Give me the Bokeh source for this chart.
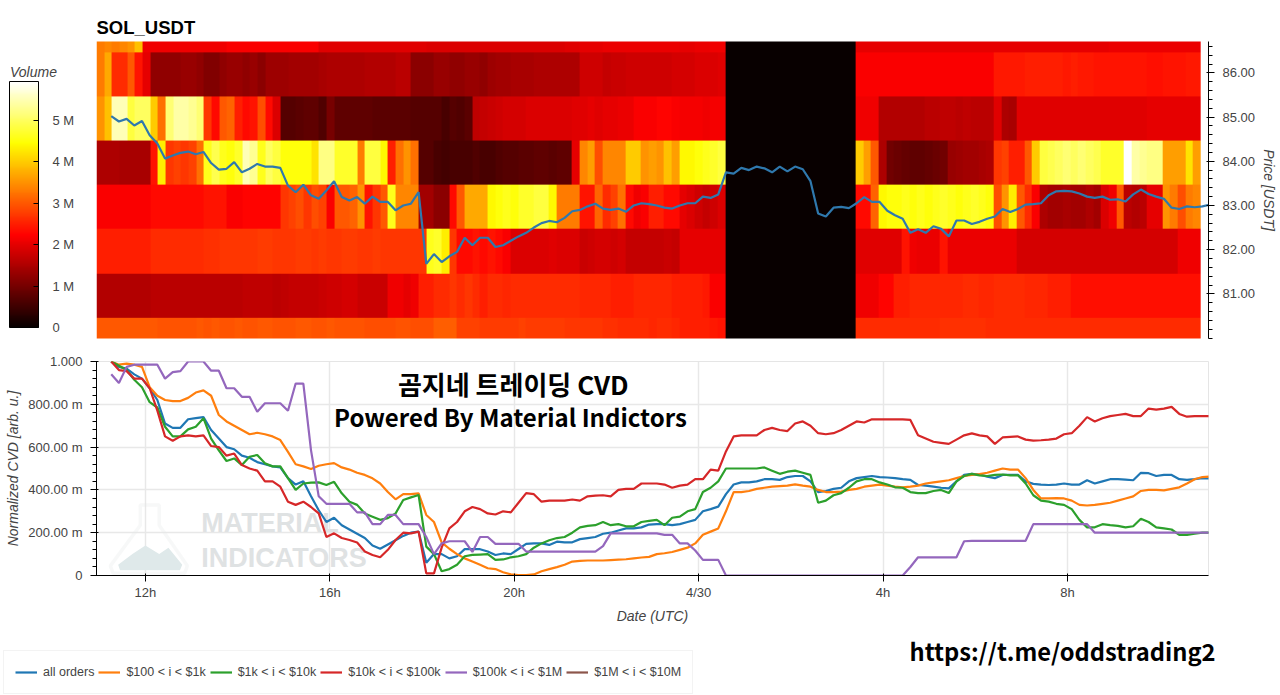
import numpy as np
from bokeh.embed import file_html
from bokeh.resources import INLINE
from bokeh.layouts import column
from bokeh.plotting import figure
from bokeh.models import (LinearColorMapper, ColorBar, FixedTicker, Label, Legend, LegendItem, Div,
                          NumeralTickFormatter, PolyAnnotation, Range1d)

# ---------- time axis (hours since 04/29 00:00) ----------
x_tick_hours = [12, 16, 20, 24, 28, 32]
x_tick_labels = ["12h", "16h", "20h", "4/30", "4h", "8h"]
line_start_hour = 11.26
line_step_hours = 1 / 6

# ---------- heatmap: volume (M) per 10-minute column, per one-dollar price bin ----------
vol_8696 = [
 3.3,3.4,3.3,3.4,3.5,3.9,2.1,2.1,2.1,2.1,2.1,2.1,
 2.1,2.1,2.1,2.1,2.1,2.2,2.2,2.2,2.2,2.2,2.2,2.2,
 2.2,2.2,2.2,2.2,2.2,1.95,1.95,1.95,1.95,1.95,1.95,1.95,
 1.95,1.95,1.95,1.95,1.95,1.95,1.95,1.9,1.9,1.9,1.9,1.9,
 1.9,1.9,1.9,1.9,1.9,1.9,1.9,1.9,1.9,1.9,1.9,1.9,
 1.9,1.95,1.95,2.0,2.0,2.0,2.05,2.05,2.05,2.05,2.05,2.05,
 2.05,2.05,2.05,2.05,2.0,2.0,2.05,2.05,2.1,2.1,0,0,
 0,0,0,0,0,0,0,0,0,0,0,0,
 0,0,0,2.0,2.0,2.0,2.0,2.0,2.0,2.0,2.0,2.0,
 2.0,2.0,2.0,2.0,2.0,2.0,2.0,2.0,2.0,2.0,2.0,2.0,
 2.0,2.0,2.0,2.0,2.0,2.0,2.0,2.0,2.0,2.0,2.0,2.0,
 2.05,2.05,2.05,2.05,2.05,2.05,2.05,2.05,2.05,2.05,2.05,2.05]
vol_8596 = [
 3.3,3.7,2.6,2.6,3.0,2.4,2.0,1.25,1.25,1.25,1.25,1.3,
 1.3,1.25,1.1,1.1,1.25,1.3,1.3,1.25,1.3,1.2,1.35,1.35,
 1.35,1.4,1.4,1.4,1.4,1.45,1.5,1.5,1.5,1.5,1.5,1.55,
 1.55,1.55,1.55,1.6,1.6,1.2,1.2,1.2,1.3,1.3,1.25,1.25,
 1.3,1.3,1.25,1.35,1.4,1.4,1.45,1.45,1.45,1.5,1.5,1.5,
 1.5,1.5,1.5,1.8,1.8,1.8,1.7,1.75,1.75,1.8,1.8,1.8,
 1.8,1.8,1.8,1.85,1.85,1.85,1.9,1.9,1.9,1.95,0,0,
 0,0,0,0,0,0,0,0,0,0,0,0,
 0,0,0,2.2,2.2,2.2,2.2,2.2,2.2,2.2,2.2,2.2,
 2.2,2.2,2.2,2.2,2.2,2.2,2.2,2.2,2.2,2.45,2.45,2.45,
 2.45,2.5,2.5,2.5,2.5,2.5,2.45,2.5,2.45,2.45,2.4,2.4,
 2.4,2.4,2.4,2.4,2.4,2.35,2.35,2.4,2.4,2.4,2.45,2.45]
vol_8496 = [
 3.5,3.9,5.5,5.5,4.8,5.0,5.0,4.0,3.2,5.1,5.4,5.4,
 5.3,5.1,2.7,2.3,3.0,3.1,2.5,2.3,2.4,2.9,2.3,1.9,
 0.7,0.7,0.75,0.8,0.8,0.65,1.0,0.8,0.8,0.8,0.8,0.8,
 0.75,0.75,0.75,0.75,0.75,0.7,0.7,0.7,0.7,0.6,0.7,0.65,
 0.75,1.65,1.7,1.75,1.8,1.85,1.85,1.85,1.9,1.9,1.9,1.9,
 1.9,1.9,1.95,1.95,2.0,1.95,2.0,2.0,2.05,2.05,2.2,2.2,
 2.2,2.25,2.25,2.2,2.15,2.15,2.15,2.1,2.15,2.15,0,0,
 0,0,0,0,0,0,0,0,0,0,0,0,
 0,0,0,2.1,2.1,2.1,1.55,1.55,1.55,1.55,1.55,1.55,
 1.6,1.6,1.65,1.65,1.6,1.65,1.6,1.6,1.6,1.95,1.5,1.45,
 1.95,1.95,1.95,1.95,1.95,1.95,1.95,1.95,1.95,1.95,1.95,1.95,
 1.95,1.95,1.95,1.95,1.95,2.0,2.0,2.0,2.0,2.0,2.0,2.0]
vol_8396 = [
 1.5,1.5,1.5,1.45,1.45,1.45,1.45,2.4,4.3,2.7,2.8,2.7,
 2.8,3.2,4.6,4.9,4.6,4.5,4.7,5.5,5.3,4.6,5.0,4.8,
 4.5,4.5,4.5,4.5,4.2,5.2,5.2,4.7,4.7,4.7,3.3,4.8,
 4.8,4.4,2.5,3.2,3.5,3.2,0.7,0.7,0.6,0.55,0.6,0.6,
 0.6,0.65,0.6,0.6,0.65,0.7,0.7,0.75,0.75,0.8,0.8,0.75,
 0.8,0.8,2.0,3.4,3.6,2.9,3.4,3.4,3.4,4.0,4.0,3.5,
 3.6,3.5,3.9,3.6,4.4,4.4,4.5,4.6,4.7,4.8,0,0,
 0,0,0,0,0,0,0,0,0,0,0,0,
 0,0,0,4.0,3.6,3.0,1.5,0.95,0.9,0.85,0.8,0.8,
 0.85,0.9,0.95,1.3,1.35,1.4,1.4,1.45,1.5,2.7,2.8,2.5,
 2.5,3.0,4.0,4.8,4.9,5.0,5.1,5.0,5.1,5.0,4.9,4.7,
 4.7,4.7,5.93,5.4,5.3,5.2,5.2,3.6,3.6,3.6,4.2,3.6]
vol_8296 = [
 2.2,2.2,2.2,2.2,2.2,2.2,2.2,2.3,2.3,2.3,2.3,2.3,
 2.3,2.3,2.4,2.4,2.4,2.2,2.2,2.25,2.25,2.25,2.25,2.25,
 2.7,2.8,2.9,2.7,2.9,2.8,2.2,3.0,3.0,3.1,3.5,2.4,
 2.7,3.0,4.6,3.4,3.4,3.4,1.4,1.4,1.2,1.2,2.3,3.0,
 3.7,3.7,3.7,4.4,4.5,4.6,4.5,4.7,4.7,4.8,4.8,4.4,
 3.3,3.3,3.3,2.4,2.4,3.1,2.6,2.8,3.2,2.3,2.1,2.2,
 2.5,2.5,2.3,2.3,2.0,1.9,1.8,1.7,1.8,1.9,0,0,
 0,0,0,0,0,0,0,0,0,0,0,0,
 0,0,0,2.3,2.3,3.1,4.4,4.5,4.5,4.6,4.5,4.6,
 4.5,4.6,4.7,4.6,4.5,4.6,4.7,4.6,4.5,2.9,3.5,4.3,
 3.0,2.6,2.2,1.5,1.4,1.4,1.45,1.4,1.4,1.5,1.4,1.9,
 2.1,3.0,1.6,1.55,1.6,2.0,2.0,3.5,3.3,2.9,3.3,3.4]
vol_8196 = [
 2.5,2.5,2.5,2.5,2.5,2.5,2.5,2.6,2.6,2.6,2.6,2.6,
 2.6,2.6,2.65,2.65,2.7,2.7,2.7,2.7,2.7,2.75,2.75,2.7,
 2.7,2.7,2.75,2.75,2.7,2.75,2.7,2.7,2.75,2.75,2.7,2.7,
 2.75,2.7,2.7,2.7,2.7,2.7,2.7,4.6,4.7,4.3,2.7,2.3,
 2.3,2.4,2.3,2.4,2.3,2.2,1.9,1.9,1.9,1.9,1.9,1.95,
 1.9,1.9,1.9,1.75,1.8,1.85,1.85,1.8,1.85,1.7,1.7,1.7,
 1.7,1.7,1.75,1.7,2.0,2.0,2.0,2.0,2.0,2.0,0,0,
 0,0,0,0,0,0,0,0,0,0,0,0,
 0,0,0,1.95,1.95,1.95,1.95,1.95,1.95,2.4,2.1,2.05,
 2.05,2.05,2.4,2.05,2.05,2.05,2.05,2.05,2.05,2.05,2.05,2.05,
 1.85,1.85,1.85,1.85,1.85,1.85,1.85,1.85,1.85,1.85,1.85,1.85,
 1.85,1.85,1.85,1.85,1.85,1.85,1.85,1.85,1.85,2.1,2.1,2.1]
vol_8096 = [
 1.55,1.55,1.55,1.55,1.55,1.55,1.55,1.6,1.6,1.6,1.6,1.6,
 1.6,1.6,1.6,1.6,1.6,1.6,1.6,1.65,1.65,1.65,1.65,1.6,
 1.65,1.7,1.7,1.7,1.7,1.75,1.8,1.8,1.85,1.85,1.75,1.75,
 1.75,1.75,2.1,2.1,2.0,2.1,2.5,2.5,2.6,2.6,2.7,2.6,
 2.7,2.6,2.5,2.6,2.6,2.55,2.6,2.6,2.6,2.6,2.6,2.6,
 2.6,2.6,2.6,2.55,2.55,2.55,2.55,2.5,2.5,2.5,2.55,2.55,
 2.55,2.55,2.55,2.5,2.5,2.5,2.5,2.45,2.2,2.2,0,0,
 0,0,0,0,0,0,0,0,0,0,0,0,
 0,0,0,2.1,2.1,2.1,2.25,2.25,2.5,2.5,2.55,2.55,
 2.55,2.55,2.55,2.55,2.55,2.6,2.6,2.55,2.55,2.6,2.6,2.6,
 2.6,2.55,2.55,2.55,2.5,2.5,2.5,2.35,2.35,2.35,2.35,2.35,
 2.35,2.35,2.35,2.35,2.35,2.35,2.35,2.35,2.35,2.35,2.35,2.35]
vol_7996 = [
 3.0,3.0,3.0,3.0,3.0,3.0,3.0,3.0,2.95,2.95,2.95,2.95,
 2.95,3.0,2.95,3.0,2.95,2.95,3.0,2.95,2.95,3.0,3.0,2.95,
 2.95,2.95,3.0,3.0,2.95,2.95,3.0,2.95,2.95,2.95,2.95,2.9,
 2.9,2.9,2.9,2.95,2.95,2.9,2.9,2.9,3.05,3.05,3.05,2.8,
 2.8,2.8,2.75,2.75,2.75,2.75,2.75,2.8,2.75,2.75,2.75,2.75,
 2.75,2.7,2.7,2.7,2.7,2.7,2.65,2.65,2.6,2.6,2.6,2.6,
 2.55,2.6,2.6,2.55,2.5,2.5,2.5,2.5,2.45,2.4,0,0,
 0,0,0,0,0,0,0,0,0,0,0,0,
 0,0,0,2.6,2.6,2.6,2.6,2.6,2.6,2.6,2.6,2.6,
 2.6,2.6,2.65,2.65,2.65,2.65,2.65,2.65,2.6,2.6,2.6,2.6,
 2.6,2.6,2.6,2.6,2.6,2.6,2.6,2.6,2.6,2.6,2.6,2.6,
 2.6,2.6,2.6,2.6,2.6,2.6,2.6,2.6,2.6,2.6,2.6,2.6]
heat_first_hour = 10.94
heat_total_hours = 23.95
heat_low_price = 79.46
heat_price_span = 8
volume_max = 5.93

# ---------- price line ----------
price = [
 85.02,84.90,84.96,84.81,84.91,84.59,84.40,84.06,84.13,84.19,84.22,84.16,
 84.21,83.96,83.81,83.83,83.98,83.75,83.83,83.94,83.88,83.88,83.85,83.45,
 83.30,83.47,83.23,83.15,83.34,83.55,83.19,83.11,83.19,83.04,83.20,83.08,
 83.08,82.89,83.00,83.04,83.30,81.68,81.90,81.72,81.85,81.95,82.27,82.10,
 82.27,82.27,82.06,82.10,82.20,82.30,82.38,82.50,82.60,82.65,82.62,82.72,
 82.87,82.90,82.98,83.04,82.93,82.90,82.93,82.86,83.00,83.05,83.03,83.00,
 82.95,82.93,83.00,83.05,83.05,83.20,83.17,83.25,83.75,83.72,83.85,83.80,
 83.88,83.84,83.75,83.88,83.77,83.88,83.82,83.55,82.82,82.75,82.95,82.97,
 82.94,83.05,83.19,83.08,83.08,82.88,82.78,82.70,82.38,82.46,82.38,82.53,
 82.47,82.30,82.66,82.66,82.58,82.63,82.70,82.75,82.92,82.85,82.92,83.02,
 83.03,83.05,83.23,83.32,83.33,83.32,83.27,83.20,83.17,83.20,83.13,83.14,
 83.09,83.25,83.36,83.26,83.20,83.15,82.95,82.92,82.98,82.96,82.98,83.02]
price_ticks = [81, 82, 83, 84, 85, 86]

# ---------- normalized CVD ----------
cvd_all = [
 1.0,.975,.967,.94,.92,.875,.82,.71,.69,.69,.73,.735,
 .74,.68,.64,.60,.59,.56,.55,.53,.52,.51,.505,.455,
 .425,.44,.37,.305,.25,.27,.235,.215,.195,.175,.14,.125,
 .145,.165,.185,.20,.205,.06,.10,.10,.08,.09,.123,.123,
 .123,.112,.096,.103,.10,.124,.148,.15,.15,.143,.158,.155,
 .155,.17,.175,.18,.195,.20,.21,.22,.22,.225,.238,.24,
 .24,.235,.24,.25,.26,.30,.31,.322,.38,.425,.435,.435,
 .44,.45,.45,.447,.46,.465,.465,.44,.39,.395,.405,.41,
 .44,.455,.46,.465,.46,.458,.455,.45,.447,.423,.42,.415,
 .41,.407,.44,.47,.475,.472,.462,.455,.47,.47,.47,.44,
 .428,.425,.423,.425,.43,.425,.425,.445,.43,.44,.45,.45,
 .448,.445,.48,.478,.465,.47,.47,.45,.447,.45,.455,.453]
cvd_100_1k = [
 1.0,.985,.99,.985,.975,.88,.84,.82,.815,.815,.83,.855,
 .865,.84,.75,.72,.70,.68,.66,.667,.66,.65,.633,.578,
 .52,.51,.498,.513,.52,.525,.505,.495,.48,.47,.454,.43,
 .39,.356,.38,.38,.384,.283,.25,.155,.125,.10,.08,.065,
 .05,.034,.03,.015,.005,.002,.002,.005,.02,.03,.039,.05,
 .065,.068,.07,.07,.07,.072,.074,.076,.08,.084,.087,.10,
 .104,.11,.12,.13,.15,.19,.205,.22,.30,.39,.39,.395,
 .405,.41,.415,.418,.42,.426,.42,.415,.40,.39,.39,.392,
 .40,.405,.415,.42,.425,.42,.415,.412,.415,.42,.43,.435,
 .44,.445,.455,.465,.47,.474,.48,.49,.50,.495,.495,.455,
 .40,.36,.36,.362,.36,.35,.33,.327,.33,.335,.34,.35,
 .36,.37,.395,.40,.40,.398,.405,.412,.43,.45,.46,.462]
cvd_1k_10k = [
 1.0,.98,.96,.915,.88,.81,.785,.695,.65,.65,.683,.695,
 .735,.64,.585,.535,.547,.516,.555,.563,.524,.51,.51,.455,
 .40,.43,.434,.435,.423,.438,.384,.345,.33,.29,.275,.26,
 .268,.29,.353,.365,.376,.135,.10,.02,.03,.05,.09,.096,
 .098,.10,.073,.075,.085,.09,.10,.13,.15,.165,.175,.18,
 .20,.225,.232,.235,.25,.235,.24,.23,.23,.25,.255,.26,
 .235,.27,.275,.30,.31,.39,.41,.44,.50,.50,.50,.50,
 .50,.505,.49,.475,.485,.49,.48,.47,.34,.35,.375,.385,
 .41,.44,.45,.45,.435,.425,.412,.41,.39,.385,.385,.395,
 .40,.385,.44,.465,.475,.468,.465,.47,.472,.468,.468,.43,
 .375,.35,.345,.335,.33,.31,.26,.225,.225,.24,.235,.232,
 .225,.23,.265,.25,.225,.22,.215,.19,.19,.195,.20,.20]
cvd_10k_100k = [
 1.0,.96,.955,.92,.92,.875,.77,.65,.63,.65,.655,.65,
 .655,.605,.60,.56,.57,.516,.50,.49,.44,.44,.415,.345,
 .33,.345,.32,.29,.18,.197,.175,.166,.154,.112,.096,.085,
 .12,.166,.20,.197,.205,.01,.01,.13,.22,.25,.30,.32,
 .31,.29,.285,.30,.295,.34,.385,.38,.345,.35,.35,.35,
 .355,.35,.37,.373,.375,.37,.40,.405,.405,.43,.43,.43,
 .425,.41,.42,.425,.45,.45,.495,.49,.58,.65,.655,.655,
 .655,.68,.69,.68,.675,.71,.72,.70,.665,.66,.665,.68,
 .70,.72,.715,.73,.73,.73,.73,.73,.727,.655,.64,.625,
 .62,.615,.635,.655,.664,.655,.65,.615,.645,.648,.65,.635,
 .63,.632,.635,.64,.66,.665,.70,.74,.72,.735,.745,.75,
 .755,.745,.745,.78,.775,.78,.788,.755,.742,.745,.745,.745]
cvd_100k_1m = [
 .94,.90,.975,.985,.985,.985,.985,.92,.95,.955,1.0,1.0,
 1.0,.957,.957,.875,.875,.835,.835,.765,.805,.805,.805,.77,
 .897,.897,.585,.37,.335,.335,.335,.335,.295,.295,.24,.24,
 .283,.283,.24,.24,.24,.18,.10,.15,.16,.16,.16,.11,
 .18,.18,.148,.148,.148,.148,.112,.112,.112,.112,.112,.112,
 .112,.112,.112,.112,.137,.197,.197,.197,.197,.197,.197,.197,
 .19,.19,.15,.15,.117,.073,.073,.073,0,0,0,0,
 0,0,0,0,0,0,0,0,0,0,0,0,
 0,0,0,0,0,0,0,0,.04,.085,.085,.085,
 .085,.085,.085,.16,.162,.162,.162,.162,.162,.162,.162,.162,
 .24,.24,.24,.24,.24,.24,.24,.24,.20,.20,.20,.20,
 .20,.20,.20,.20,.20,.20,.20,.20,.20,.20,.20,.20]
# this size class shows no visible line in the reference (it stays on the baseline)
cvd_1m_10m = [0.0, 0.0]
cvd_ticks = [0, 0.2, 0.4, 0.6, 0.8, 1.0]
cvd_tick_labels = ["0", "200.00 m", "400.00 m", "600.00 m", "800.00 m", "1.000"]
series_labels = ["all orders", "$100 < i < $1k", "$1k < i < $10k", "$10k < i < $100k", "$100k < i < $1M", "$1M < i < $10M"]
series_colors = ["#1f77b4", "#ff7f0e", "#2ca02c", "#d62728", "#9467bd", "#8c564b"]

volume_ticks = [0, 1, 2, 3, 4, 5]
volume_tick_labels = ["0", "1 M", "2 M", "3 M", "4 M", "5 M"]

# flask logo of the watermark, in chart units
flask_x = [11.89, 12.30, 12.30, 12.91, 12.85, 11.30, 11.24, 11.89]
flask_y = [.33, .33, .235, .045, .01, .01, .045, .235]
liquid_x = [11.41, 11.72, 12.0, 12.3, 12.5, 12.8, 12.75, 11.45]
liquid_y = [.05, .10, .14, .10, .13, .05, .025, .025]

TEXT = "#444444"
FONT = "Liberation Sans"
assert all(len(r) == 144 for r in [vol_8696, vol_8596, vol_8496, vol_8396, vol_8296, vol_8196, vol_8096, vol_7996])
assert all(len(r) == 144 for r in [price, cvd_all, cvd_100_1k, cvd_1k_10k, cvd_10k_100k, cvd_100k_1m])

hours = line_start_hour + np.arange(len(price)) * line_step_hours
x_range = Range1d(10.94, 35.06)

# palette: black -> red -> yellow -> white ("hot")
anchors = np.array([[8, 0, 0], [255, 0, 0], [255, 255, 0], [255, 255, 255]], dtype=float)
stops = [0, 0.375, 0.75, 1.0]
palette = ["#%02x%02x%02x" % tuple(int(np.interp(t, stops, anchors[:, k])) for k in range(3))
           for t in np.linspace(0, 1, 256)]
mapper = LinearColorMapper(palette=palette, low=0, high=volume_max)

# ---------- top figure ----------
top = figure(width=1280, height=345, x_range=x_range, y_range=Range1d(79.99, 86.71),
             y_axis_location="right", output_backend="svg", toolbar_location=None,
             min_border_left=96, min_border_right=72, min_border_top=41, min_border_bottom=7,
             title="SOL_USDT")
top.title.text_font = FONT
top.title.text_font_size = "18.5px"
top.title.text_color = "black"
top.title.text_font_style = "bold"
top.title.standoff = 8
top.xaxis.visible = False
top.grid.visible = False
top.outline_line_color = None
top.image(image=[np.array([vol_7996, vol_8096, vol_8196, vol_8296, vol_8396, vol_8496, vol_8596, vol_8696], dtype=float)],
          x=heat_first_hour, y=heat_low_price, dw=heat_total_hours, dh=heat_price_span, color_mapper=mapper)
top.line(hours, price, line_color="#2f78ad", line_width=2.2)
ax = top.yaxis[0]
ax.ticker = FixedTicker(ticks=price_ticks, minor_ticks=[80 + 0.2 * k for k in range(34)])
ax.formatter = NumeralTickFormatter(format="0.00")
ax.axis_label = "Price [USDT]"
ax.axis_label_text_font = FONT
ax.axis_label_text_font_style = "italic"
ax.axis_label_text_font_size = "14px"
ax.axis_label_text_color = TEXT
ax.axis_label_standoff = 3
ax.major_label_text_font = FONT
ax.major_label_text_font_size = "13px"
ax.major_label_text_color = TEXT
ax.major_label_standoff = 8

cb = ColorBar(color_mapper=mapper, location=(-87, 11), width=29, height=246, padding=0,
              ticker=FixedTicker(ticks=volume_ticks),
              major_label_overrides=dict(zip(volume_ticks, volume_tick_labels)),
              major_label_text_font=FONT, major_label_text_font_size="13px", major_label_text_color=TEXT,
              major_tick_line_color="black", major_tick_in=5, bar_line_color="black",
              label_standoff=14)
top.add_layout(cb, "center")
volume_title = Div(text="Volume", width=60, height=18, margin=0,
                   styles={"position": "absolute", "left": "10px", "top": "62px", "font-family": FONT,
                           "font-style": "italic", "font-size": "14px", "color": TEXT})

# ---------- bottom figure ----------
bot = figure(width=1280, height=285, x_range=x_range, y_range=Range1d(0, 1),
             output_backend="svg", toolbar_location=None,
             min_border_left=96, min_border_right=72, min_border_top=16, min_border_bottom=55)
bot.outline_line_color = "#e5e5e5"
bot.grid.grid_line_color = "#e8e8e8"
bot.grid.grid_line_width = 1.5
xa = bot.xaxis[0]
xa.ticker = FixedTicker(ticks=x_tick_hours)
bot.xgrid[0].ticker = FixedTicker(ticks=x_tick_hours)
xa.major_label_overrides = dict(zip(x_tick_hours, x_tick_labels))
xa.minor_tick_line_color = None
xa.axis_label = "Date (UTC)"
xa.axis_label_text_font = FONT
xa.axis_label_text_font_style = "italic"
xa.axis_label_text_font_size = "14px"
xa.axis_label_text_color = TEXT
xa.axis_label_standoff = 5
xa.major_label_text_font = FONT
xa.major_label_text_font_size = "13px"
xa.major_label_text_color = TEXT
xa.major_label_standoff = 3
ya = bot.yaxis[0]
ya.ticker = FixedTicker(ticks=cvd_ticks, minor_ticks=[round(0.04 * k, 2) for k in range(26)])
bot.ygrid[0].ticker = FixedTicker(ticks=cvd_ticks)
ya.major_label_overrides = dict(zip(cvd_ticks, cvd_tick_labels))
ya.axis_label = "Normalized CVD [arb. u.]"
ya.axis_label_text_font = FONT
ya.axis_label_text_font_style = "italic"
ya.axis_label_text_font_size = "14px"
ya.axis_label_text_color = TEXT
ya.axis_label_standoff = 4
ya.major_label_text_font = FONT
ya.major_label_text_font_size = "13px"
ya.major_label_text_color = TEXT
ya.major_label_standoff = 8

# watermark under the lines
bot.add_layout(PolyAnnotation(xs=liquid_x, ys=liquid_y, fill_color="#dfe9ea", fill_alpha=1.0,
                              line_color=None, level="underlay"))
bot.add_layout(PolyAnnotation(xs=flask_x, ys=flask_y, fill_alpha=0.0,
                              line_color="#e4e7e7", line_width=3.5, level="underlay"))
for txt, yv in (("MATERIAL", 0.245), ("INDICATORS", 0.082)):
    bot.add_layout(Label(x=13.21, y=yv, text=txt, text_font=FONT, text_font_style="bold",
                         text_font_size="27px", text_color="#dfe2e3", text_baseline="middle", level="underlay"))

all_series = [cvd_all, cvd_100_1k, cvd_1k_10k, cvd_10k_100k, cvd_100k_1m]
for vals, col in zip(all_series, series_colors):
    bot.line(hours, vals, line_color=col, line_width=2.2)

KO = "Noto Sans CJK KR"
bot.add_layout(Label(x=19.98, y=0.897, text="곰지네 트레이딩 CVD", text_font=KO, text_font_style="bold",
                     text_font_size="26px", text_color="black", text_align="center", text_baseline="middle"))
bot.add_layout(Label(x=19.92, y=0.744, text="Powered By Material Indictors", text_font=KO, text_font_style="bold",
                     text_font_size="24px", text_color="black", text_align="center", text_baseline="middle"))

# ---------- footer: legend and link (its ranges keep the series off-canvas, only the legend shows) ----------
foot = figure(width=1280, height=65, x_range=Range1d(0, 1280), y_range=Range1d(100, 165),
              x_axis_type=None, y_axis_type=None, output_backend="svg", toolbar_location=None,
              min_border_left=0, min_border_right=0, min_border_top=0, min_border_bottom=0,
              frame_align=False)
foot.grid.visible = False
foot.outline_line_color = None
items = []
for lab, vals, col in zip(series_labels, all_series + [cvd_1m_10m], series_colors):
    items.append(LegendItem(label=lab, renderers=[foot.line(hours[:len(vals)], vals, line_color=col, line_width=2.2)]))
legend = Legend(items=items, orientation="horizontal", location=(3, 1), padding=11, spacing=4,
                label_text_font=FONT, label_text_font_size="12.5px", label_text_color=TEXT,
                border_line_color="#e8e8e8", glyph_width=22, label_standoff=6, margin=0)
foot.add_layout(legend, "center")
foot.add_layout(Label(x=1062, y=145, text="https://t.me/oddstrading2", text_font=KO, text_font_style="bold",
                      text_font_size="23.7px", text_color="black", text_align="center", text_baseline="middle"))

page = column(top, bot, foot, volume_title, spacing=0)
open("out.html", "w").write(file_html(page, INLINE))
